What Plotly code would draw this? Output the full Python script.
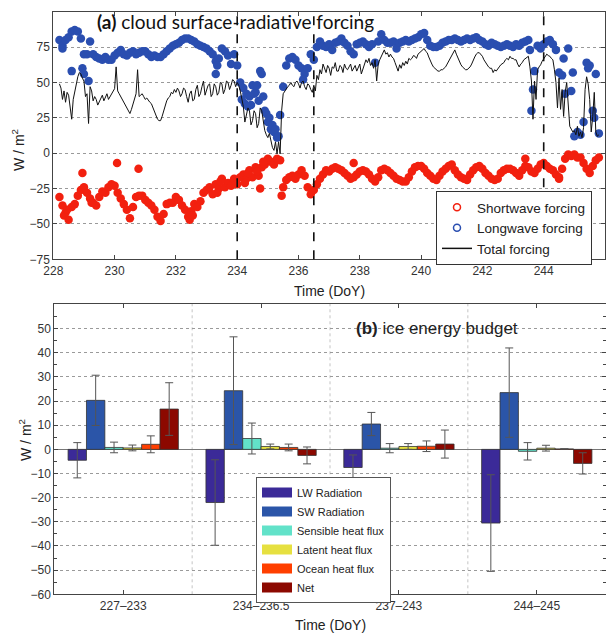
import numpy as np
import plotly.graph_objects as go

# ---------------- Panel (a) data ----------------
t0_a, dt_a = 228.2, 0.1
lw = [80, 76, 80, 82, 86, 87, 86, 81, 70, 70,
      79, 70, 68, 67, 66, 68, 66, 66, 69, 71,
      73, 70, 69, 71, 72, 70, 71, 72, 72, 70,
      68, 69, 68, 68, 70, 72, 74, 76, 77, 78,
      80, 81, 81, 80, 79, 77, 76, 75, 74, 72,
      70, 65, 67, 74, 72, 69, 63, 70, 62, 50,
      46, 42, 40, 48, 43, 37, 56, 30, 22, 17,
      15, 11, 27, 47, 62, 67, 68, 66, 62, 60,
      56, 60, 70, 66, 75, 79, 76, 75, 77, 73,
      78, 79, 81, 78, 76, 72, 70, 77, 78, 79,
      77, 75, 77, 64, 79, 84, 80, 78, 78, 79,
      74, 78, 79, 80, 79, 80, 81, 82, 84, 85,
      80, 76, 75, 75, 76, 78, 79, 80, 80, 81,
      80, 79, 80, 81, 80, 81, 82, 80, 79, 77,
      76, 78, 77, 76, 75, 76, 77, 76, 75, 77,
      76, 78, 79, 80, 30, 58, 76, 74, 77, 79,
      80, 77, 73, 57, 55, 42, 74, 44, 12, 15,
      13, 22, 64, 62, 30, 56, 14]
lw_extra_days = [228.3, 228.6, 228.95, 229.0, 229.15, 233.3, 233.35, 234.15, 234.25,
                 234.35, 234.45, 234.55, 234.65, 234.75, 234.85, 234.95, 235.05,
                 235.15, 235.25, 235.35, 236.15, 243.55, 243.65, 244.65, 244.95,
                 245.45, 245.65]
lw_extra = [74, 58, 60, 56, 51, 56, 62, 38, 35, 33, 34, 42, 48, 58, 40, 28, 25,
            20, 17, 12, 52, 73, 45, 67, 57, 60, 25]

sw = [-31, -37, -42, -47, -38, -36, -30, -26, -24, -28,
      -32, -35, -37, -31, -27, -28, -24, -22, -23, -28,
      -32, -36, -40, -46, -38, -31, -30, -30, -33, -35,
      -37, -40, -45, -48, -43, -36, -35, -35, -31, -33,
      -37, -40, -45, -41, -36, -38, -34, -28, -26, -24,
      -29, -22, -25, -18, -24, -21, -23, -18, -22, -17,
      -15, -18, -12, -17, -10, -16, -10, -8, -4, -6,
      -8, -4, -5, -24, -19, -17, -16, -18, -15, -12,
      -16, -24, -29, -26, -22, -18, -15, -12, -13, -11,
      -10, -11, -12, -14, -16, -18, -17, -15, -13, -12,
      -13, -15, -18, -20, -17, -12, -11, -12, -14, -16,
      -18, -19, -20, -20, -17, -13, -10, -9, -9, -11,
      -14, -16, -18, -19, -16, -13, -11, -9, -8, -12,
      -15, -17, -18, -19, -15, -12, -10, -9, -11, -14,
      -16, -18, -19, -18, -14, -12, -11, -11, -12, -14,
      -16, -12, -9, -10, -13, -14, -11, -8, -7, -9,
      -11, -12, -15, -17, -11, -4, -1, -2, -1, -3,
      -3, -7, -11, -14, -9, -5, -3]
sw_extra_days = [228.35, 228.45, 228.95, 229.25, 230.08, 230.78, 232.45, 232.55,
                 233.35, 233.45, 234.25, 234.35, 234.65, 234.75, 234.85, 235.45,
                 237.8, 243.4, 244.5]
sw_extra = [-44, -40, -14, -35, -7, -11, -47, -44, -28, -20, -21, -14, -13, -25,
            -6, -30, -7, -4, -18]

t0_tot, dt_tot = 228.2, 0.05
total = [49, 46, 38, 44, 36, 43, 41, 33, 24, 38, 43, 50, 54, 57, 56, 53,
         51, 40, 42, 21, 47, 44, 37, 40, 38, 34, 36, 39, 41, 37, 40, 42, 38, 40, 42, 44,
         45.6, 61, 44, 42, 40, 38, 36, 34, 32, 30, 28, 31, 35, 38, 42, 59, 40, 41, 42, 40,
         38, 39, 37, 36, 35, 32, 30, 27, 24, 23, 23, 26, 30, 34, 37, 39, 40, 43, 42, 45,
         43, 46, 44, 40, 42, 46, 45, 40, 36, 42, 44, 37, 38, 45, 48, 40, 42, 47, 51, 41,
         44, 48, 49, 40, 42, 49, 47, 41, 43, 50, 49, 42, 45, 51, 50, 45, 48, 52, 51, 47,
         50, 48, 44, 38, 33, 22, 26, 32, 30, 20, 23, 30, 28, 18, 21, 32, 30, 22, 16, 13,
         11, 14, 8, 4, 2, 8, -0.5, 8, -0.5, 30, 42, 44, 46, 47, 48, 50, 48, 47, 50, 51,
         49, 46, 50, 51, 47, 45, 49, 48, 45, 43, 48, 44, 55, 52, 59, 56, 63, 60, 57, 62,
         60, 55, 61, 60, 64, 58, 58, 62, 61, 57, 63, 60, 59, 61, 63, 58, 60, 62, 58, 61,
         63, 56, 59, 62, 66, 64, 67, 62, 64, 60, 66, 51, 63, 66, 68.5, 71, 73, 70, 71, 68,
         70, 68, 67, 64, 61, 58, 62.5, 60, 64, 62, 65, 63, 67, 66, 67, 69, 68.5, 67, 70, 71,
         72, 73, 74, 72, 71, 68, 65, 63, 61, 60, 59, 58, 58, 59, 59, 60, 61, 63, 65, 67,
         70, 72, 73, 70, 67, 64, 62.5, 61, 60, 59, 59, 60, 61, 63, 66, 68, 70, 71, 71, 70,
         68.5, 66, 64, 62, 61, 60, 60, 57, 59, 58, 60, 61, 62.5, 63, 64, 66, 67, 66, 68.5, 67,
         67, 66, 66, 63, 61, 63, 64, 66, 67, 68, 68.5, 61, 51, 24, 51, 38, 59, 61, 62.5, 65,
         67, 69, 70, 69, 68.5, 67, 66, 59, 50, 32, 53, 31, 45, 26, 43, 50, 36, 19, 17, 15,
         16, 13, 19, 12, 15, 11, 18, 45, 54, 49, 38, 15, 26, 43, 15, 12, 13]

event_days = [234, 236.5, 244]

# ---------------- Panel (b) data ----------------
periods = ["227\u2013233", "234\u2013236.5", "237\u2013243", "244\u2013245"]
components = ["LW Radiation", "SW Radiation", "Sensible heat flux",
              "Latent heat flux", "Ocean heat flux", "Net"]
comp_colors = ["#3b2a98", "#2b55a8", "#62e2c9", "#e6e040", "#ff3f00", "#8c0800"]
budget = [
    [-4.5, -22.0, -7.5, -30.5],
    [20.3, 24.3, 10.5, 23.5],
    [0.8, 4.5, 0.5, -0.8],
    [0.6, 1.2, 1.2, 0.5],
    [2.1, 0.8, 1.3, 0.2],
    [16.7, -2.5, 2.2, -5.8],
]
budget_err = [
    [7.3, 17.7, 5.2, 20.0],
    [10.4, 22.3, 4.8, 18.5],
    [2.2, 6.4, 1.9, 3.6],
    [1.2, 1.0, 1.2, 1.2],
    [3.5, 1.4, 2.2, 0.0],
    [10.9, 3.5, 5.8, 4.4],
]

# ---------------- Figure geometry ----------------
# The page adds an 8px body margin, so the figure is drawn 8px in from the
# window's top-left corner; size it to fill the rest of the 614x634 window.
OFF = 8
W, H = 614 - OFF, 634 - OFF


def px(x):
    """window x pixel -> paper fraction"""
    return (x - OFF) / W


def py(y):
    """window y pixel (from top) -> paper fraction (from bottom)"""
    return 1 - (y - OFF) / H


fig = go.Figure()

sans = "Liberation Sans, Arial, sans-serif"
blue = "#2a4eb0"
red = "#f2200f"

d_lw = t0_a + dt_a * np.arange(len(lw))
d_sw = t0_a + dt_a * np.arange(len(sw))
d_tot = t0_tot + dt_tot * np.arange(len(total))

mk = dict(size=8.5, line=dict(width=0))
fig.add_trace(go.Scatter(x=d_sw, y=sw, mode="markers", showlegend=False,
                         marker=dict(color=red, **mk), xaxis="x", yaxis="y"))
fig.add_trace(go.Scatter(x=sw_extra_days, y=sw_extra, mode="markers", showlegend=False,
                         marker=dict(color=red, **mk), xaxis="x", yaxis="y"))
fig.add_trace(go.Scatter(x=d_lw, y=lw, mode="markers", showlegend=False,
                         marker=dict(color=blue, **mk), xaxis="x", yaxis="y"))
fig.add_trace(go.Scatter(x=lw_extra_days, y=lw_extra, mode="markers", showlegend=False,
                         marker=dict(color=blue, **mk), xaxis="x", yaxis="y"))
fig.add_trace(go.Scatter(x=d_tot, y=total, mode="lines", showlegend=False,
                         line=dict(color="#111111", width=1), xaxis="x", yaxis="y"))

# legend entries for panel (a)
fig.add_trace(go.Scatter(x=[None], y=[None], mode="markers", name="Shortwave forcing",
                         marker=dict(color=red, symbol="circle-open", size=7,
                                     line=dict(width=1.5)),
                         legend="legend", xaxis="x", yaxis="y"))
fig.add_trace(go.Scatter(x=[None], y=[None], mode="markers", name="Longwave forcing",
                         marker=dict(color=blue, symbol="circle-open", size=7,
                                     line=dict(width=1.5)),
                         legend="legend", xaxis="x", yaxis="y"))
fig.add_trace(go.Scatter(x=[None], y=[None], mode="lines", name="Total forcing",
                         line=dict(color="#111111", width=1.5),
                         legend="legend", xaxis="x", yaxis="y"))

for d in event_days:
    fig.add_shape(type="line", xref="x", yref="y domain", x0=d, x1=d, y0=0, y1=1,
                  line=dict(color="#111111", width=1.6, dash="dash"))

# panel (b) bars
cat_idx = np.arange(len(periods))
for name, col, vals, errs in zip(components, comp_colors, budget, budget_err):
    fig.add_trace(go.Bar(x=cat_idx, y=vals, name=name, xaxis="x2", yaxis="y2",
                         showlegend=False,
                         marker=dict(color=col, line=dict(color="#333333", width=0.8)),
                         error_y=dict(type="data", array=errs, visible=True,
                                      color="#555555", thickness=1, width=4)))
    # wide colour swatch for the legend
    fig.add_trace(go.Scatter(x=[None], y=[None], mode="lines", name=name,
                             line=dict(color=col, width=11), legend="legend2",
                             xaxis="x2", yaxis="y2"))

for b in cat_idx[:-1] + 0.5:
    fig.add_shape(type="line", xref="x2", yref="y2 domain", x0=b, x1=b, y0=0, y1=1,
                  layer="below", line=dict(color="#c4c4c4", width=1, dash="dot"))

axis_common = dict(showline=True, linecolor="#444444", linewidth=1, mirror="ticks",
                   ticks="inside", tickcolor="#444444", ticklen=4, automargin=False,
                   tickfont=dict(family=sans, size=12, color="#333333"))

fig.update_layout(
    template="none",
    width=W, height=H,
    margin=dict(l=0, r=0, t=0, b=0, autoexpand=False),
    paper_bgcolor="white", plot_bgcolor="white",
    barmode="group", bargap=0.2, bargroupgap=0.0,
    xaxis=dict(domain=[px(53.3), px(605)], range=[228, 246],
               tickvals=list(range(228, 247, 2)),
               showgrid=False, zeroline=False, anchor="y", **axis_common),
    yaxis=dict(domain=[py(259.3), py(11.7)], range=[-75, 100],
               tickvals=list(range(-75, 101, 25)),
               showgrid=True, gridcolor="#9a9a9a", gridwidth=1, griddash="dot",
               zeroline=False, anchor="x", **axis_common),
    xaxis2=dict(domain=[px(54.3), px(605.7)], range=[-0.5, 3.5], tickvals=list(cat_idx),
                ticktext=periods, showgrid=False, zeroline=False, anchor="y2",
                **axis_common),
    yaxis2=dict(domain=[py(594.3), py(303.5)], range=[-60, 60.4],
                tickvals=list(range(-60, 51, 10)),
                showgrid=True, gridcolor="#9a9a9a", gridwidth=1, griddash="dot",
                zeroline=True, zerolinecolor="#777777", zerolinewidth=1,
                minor=dict(dtick=5, ticks="inside", ticklen=3, tickcolor="#444444",
                           showgrid=False),
                anchor="x2", **axis_common),
    legend=dict(x=px(592), xanchor="right", y=py(191), yanchor="top",
                bgcolor="white", bordercolor="#333333", borderwidth=1,
                font=dict(family=sans, size=13.5, color="#222222"),
                tracegroupgap=0, itemwidth=30),
    legend2=dict(x=px(256), xanchor="left", y=py(477), yanchor="top",
                 bgcolor="white", bordercolor="#555555", borderwidth=1,
                 font=dict(family=sans, size=11, color="#222222"),
                 tracegroupgap=0, itemwidth=30, traceorder="normal"),
    showlegend=True,
)

annotations = [
    dict(text="<b>(a)</b> cloud surface-radiative forcing", x=px(95), y=py(22),
         xref="paper", yref="paper", xanchor="left", yanchor="middle", showarrow=False,
         font=dict(family="Lato, sans-serif", size=19, color="#111111")),
    dict(text="<b>(b)</b> ice energy budget", x=px(437), y=py(328),
         xref="paper", yref="paper", xanchor="center", yanchor="middle", showarrow=False,
         font=dict(family=sans, size=17, color="#222222")),
    dict(text="W / m<sup>2</sup>", x=px(18), y=py(150), xref="paper", yref="paper",
         textangle=-90, showarrow=False, xanchor="center", yanchor="middle",
         font=dict(family=sans, size=14, color="#222222")),
    dict(text="W / m<sup>2</sup>", x=px(25), y=py(440), xref="paper", yref="paper",
         textangle=-90, showarrow=False, xanchor="center", yanchor="middle",
         font=dict(family=sans, size=14, color="#222222")),
    dict(text="Time (DoY)", x=px(329), y=py(291), xref="paper", yref="paper",
         showarrow=False, xanchor="center", yanchor="middle",
         font=dict(family=sans, size=14, color="#222222")),
    dict(text="Time (DoY)", x=px(330), y=py(625), xref="paper", yref="paper",
         showarrow=False, xanchor="center", yanchor="middle",
         font=dict(family=sans, size=14, color="#222222")),
]
fig.update_layout(annotations=annotations)

fig.write_html("out.html")
